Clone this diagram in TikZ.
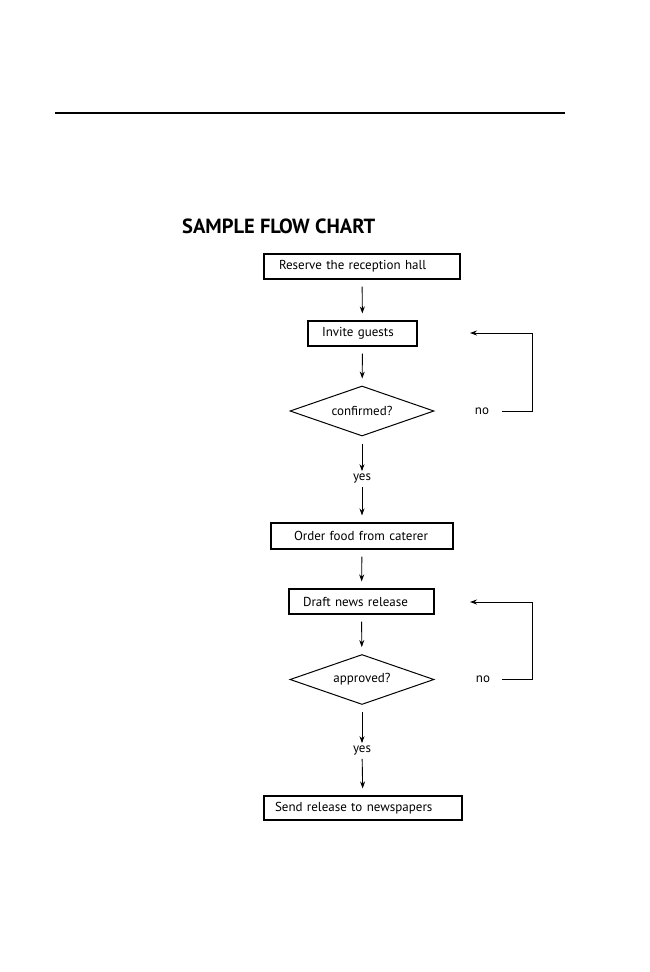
\documentclass[tikz,border=0pt]{standalone}
\usepackage{fontspec}
\setmainfont{PT Sans}
\usetikzlibrary{shapes.geometric,arrows.meta}
\begin{document}
\begin{tikzpicture}[x=1pt,y=-1pt,
  box/.style={draw,line width=1.1pt,inner ysep=0pt,align=left,font=\fontsize{13}{15}\selectfont},
  decision/.style={draw,diamond,aspect=2.88,line width=1pt,inner sep=0pt,minimum width=144pt,minimum height=50pt,font=\fontsize{13}{15}\selectfont},
  lbl/.style={inner sep=1pt,font=\fontsize{13}{15}\selectfont},
  arr/.style={line width=0.9pt,-{Stealth[length=7pt,width=5pt]}},
  gap/.style={shorten <=7pt,shorten >=7pt}]
\useasboundingbox (0,0) rectangle (649,972);
\fill[white] (0,0) rectangle (649,972);
\coordinate (rl) at (55,113);
\coordinate (rr) at (565,113);
\draw[line width=1.2pt] (rl) -- (rr);
\node[anchor=west,inner sep=0pt,font=\fontsize{20.5}{24}\selectfont\bfseries] (title) at (182,226) {SAMPLE FLOW CHART};
\node[box,inner xsep=15pt,text width=166pt,minimum height=25pt] (b1) at (362,266.5) {Reserve the reception hall};
\node[box,inner xsep=14pt,text width=81pt,minimum height=25pt] (b2) at (362.5,333.5) {Invite guests};
\node[decision] (d1) at (362,411) {confirmed?};
\node[lbl] (y1) at (362,478) {yes};
\node[box,inner xsep=23pt,text width=136pt,minimum height=26pt] (b3) at (362,536) {Order food from caterer};
\node[box,inner xsep=14pt,text width=117pt,minimum height=25pt] (b4) at (361.5,601.5) {Draft news release};
\node[decision] (d2) at (362,679.5) {approved?};
\node[lbl] (y2) at (362,750) {yes};
\node[box,inner xsep=11pt,text width=176pt,minimum height=24pt] (b5) at (363,808) {Send release to newspapers};
\node[lbl] (n1) at (482,411) {no};
\node[lbl] (n2) at (483,679.5) {no};
\coordinate (s1) at (502,411);
\coordinate (c1) at (532,411);
\coordinate (t1) at (470,333);
\coordinate (s2) at (502,679.5);
\coordinate (c2) at (532,679.5);
\coordinate (t2) at (470,602);
\draw[arr,gap] (b1) -- (b2);
\draw[arr,gap] (b2) -- (d1);
\draw[arr,shorten <=7pt,shorten >=1pt] (d1) -- (y1);
\draw[arr,shorten <=3pt,shorten >=7pt] (y1) -- (b3);
\draw[arr,gap] (b3) -- (b4);
\draw[arr,gap] (b4) -- (d2);
\draw[arr,shorten <=7pt,shorten >=1pt] (d2) -- (y2);
\draw[arr,shorten <=3pt,shorten >=7pt] (y2) -- (b5);
\draw[arr] (s1) -- (c1) |- (t1);
\draw[arr] (s2) -- (c2) |- (t2);
\end{tikzpicture}
\end{document}
